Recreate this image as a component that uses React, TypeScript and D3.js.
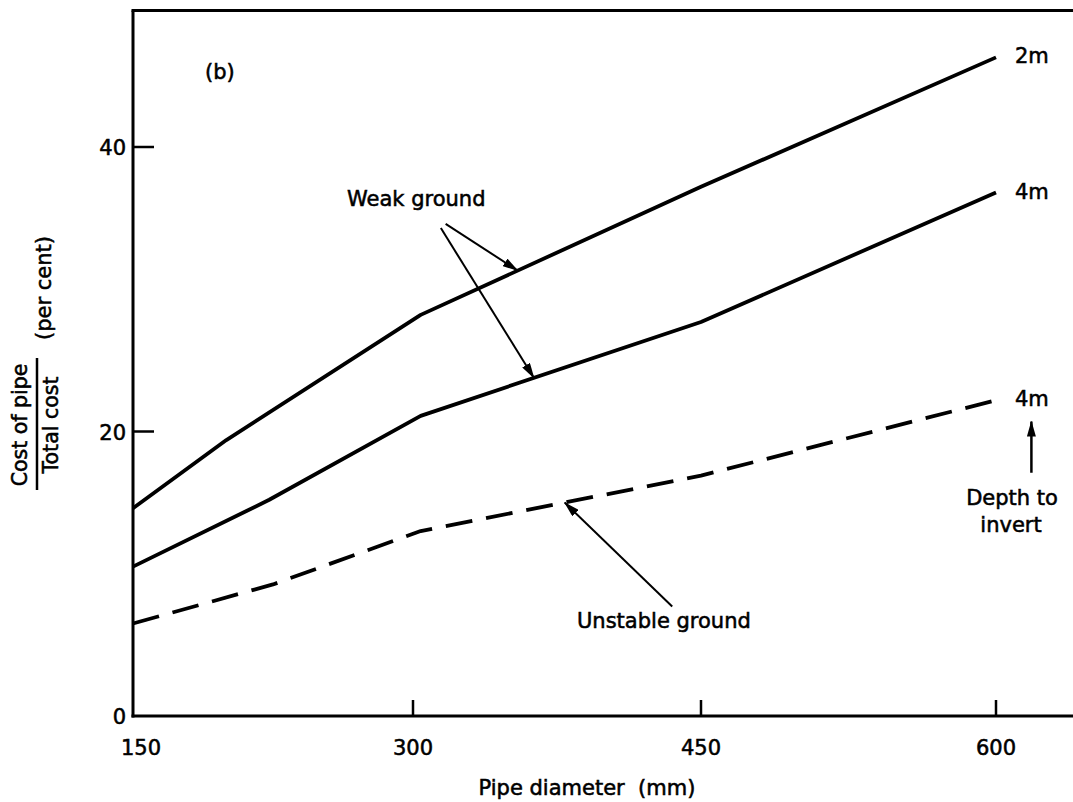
import React from 'react';
import * as d3 from 'd3';

const W = 1073;
const H = 802;

// Axis ticks
const diameterTicks = [150, 300, 450, 600];
const percentTicks = [0, 20, 40];
const innerYTicks = [20, 40];
const innerXTicks = [300, 450, 600];

// Weak ground, 2 m depth to invert
const weak2mDiam = [150, 200, 304, 450, 600];
const weak2mCost = [14.6, 19.4, 28.2, 37.2, 46.3];
// Weak ground, 4 m depth to invert
const weak4mDiam = [150, 223, 304, 450, 600];
const weak4mCost = [10.5, 15.2, 21.1, 27.7, 36.8];
// Unstable ground, 4 m depth to invert
const unstable4mDiam = [150, 225, 304, 450, 600];
const unstable4mCost = [6.5, 9.25, 13.0, 16.9, 22.2];

const endLabels = ['2m', '4m', '4m'];

const FONT = '"DejaVu Sans", sans-serif';

export default function App() {
  const x = d3.scaleLinear().domain([150, 300, 450, 600]).range([133, 413, 701, 996]);
  const y = d3.scaleLinear().domain([0, 40]).range([716, 147]);
  const yTop = y(49.6);

  const line = d3
    .line<[number, number]>()
    .x((d) => x(d[0]))
    .y((d) => y(d[1]));

  const series = [
    { diam: weak2mDiam, cost: weak2mCost, dashed: false },
    { diam: weak4mDiam, cost: weak4mCost, dashed: false },
    { diam: unstable4mDiam, cost: unstable4mCost, dashed: true },
  ];

  const interp = (diam: number[], cost: number[], v: number) =>
    d3.scaleLinear().domain(diam).range(cost)(v);

  // annotation arrows: [tail diameter, tail %, head diameter, head %]
  const arrows: [number, number, number, number][] = [
    [317, 34.6, 354.5, interp(weak2mDiam, weak2mCost, 354.5)],
    [314.5, 34.3, 363, interp(weak4mDiam, weak4mCost, 363)],
    [435, 7.7, 379, interp(unstable4mDiam, unstable4mCost, 379)],
    [618, 17.1, 618, 20.7],
  ];

  const textStyle = {
    fontFamily: FONT,
    fontSize: 21,
    fill: '#000',
    stroke: '#000',
    strokeWidth: 0.55,
  } as const;

  return (
    <svg
      width={W}
      height={H}
      style={{ position: 'absolute', left: 0, top: 0, background: '#fff' }}
    >
      <defs>
        <marker
          id="head"
          viewBox="0 0 16 9"
          refX={15}
          refY={4.5}
          markerWidth={16}
          markerHeight={9}
          markerUnits="userSpaceOnUse"
          orient="auto"
        >
          <path d="M0,0 L16,4.5 L0,9 Z" fill="#000" />
        </marker>
      </defs>
      <rect width={W} height={H} fill="#fff" />

      {/* frame */}
      <line x1={x(150)} x2={x(150)} y1={yTop} y2={y(0) + 1.5} stroke="#000" strokeWidth={3} />
      <line x1={x(150) - 1.5} x2={W} y1={yTop} y2={yTop} stroke="#000" strokeWidth={3} />
      <line x1={x(150) - 1.5} x2={W} y1={y(0)} y2={y(0)} stroke="#000" strokeWidth={3} />

      {/* inward ticks */}
      {innerYTicks.map((t) => (
        <line key={'yt' + t} x1={x(150)} x2={x(150) + 21} y1={y(t)} y2={y(t)} stroke="#000" strokeWidth={2.5} />
      ))}
      {innerXTicks.map((t) => (
        <line key={'xt' + t} x1={x(t)} x2={x(t)} y1={y(0)} y2={y(0) - 16} stroke="#000" strokeWidth={2.5} />
      ))}

      {/* tick labels */}
      {percentTicks.map((t) => (
        <text key={'yl' + t} x={x(150) - 7} y={y(t) + 8} textAnchor="end" {...textStyle}>
          {t}
        </text>
      ))}
      {diameterTicks.map((t) => (
        <text key={'xl' + t} x={x(t) + (t === 150 ? 8 : 0)} y={755} textAnchor="middle" {...textStyle}>
          {t}
        </text>
      ))}

      {/* axis titles */}
      <text x={587} y={795} textAnchor="middle" {...textStyle}>
        Pipe diameter{'\u00a0\u00a0'}(mm)
      </text>
      <g transform="translate(27,425) rotate(-90)">
        <text textAnchor="middle" {...textStyle} fontSize={20.5}>Cost of pipe</text>
      </g>
      <line x1={37} x2={37} y1={358} y2={490} stroke="#000" strokeWidth={2.5} />
      <g transform="translate(58,425) rotate(-90)">
        <text textAnchor="middle" {...textStyle} fontSize={20.5}>Total cost</text>
      </g>
      <g transform="translate(51,288) rotate(-90)">
        <text textAnchor="middle" {...textStyle}>(per cent)</text>
      </g>

      <text x={205} y={79} {...textStyle}>(b)</text>

      {/* curves */}
      {series.map((s, i) => (
        <path
          key={'s' + i}
          d={line(s.diam.map((d, j) => [d, s.cost[j]] as [number, number])) || ''}
          fill="none"
          stroke="#000"
          strokeWidth={3.8}
          strokeDasharray={s.dashed ? '27 14' : undefined}
          strokeLinejoin="round"
        />
      ))}

      {/* depth labels at line ends */}
      {series.map((s, i) => (
        <text
          key={'el' + i}
          x={x(600) + 19}
          y={y(s.cost[s.cost.length - 1]) + 6}
          {...textStyle}
        >
          {endLabels[i]}
        </text>
      ))}

      {/* annotations */}
      {arrows.map((a, i) => (
        <line
          key={'ar' + i}
          x1={x(a[0])}
          y1={y(a[1])}
          x2={x(a[2])}
          y2={y(a[3])}
          stroke="#000"
          strokeWidth={i === 3 ? 2.5 : 2}
          markerEnd="url(#head)"
        />
      ))}
      <text x={347} y={206} {...textStyle}>Weak ground</text>
      <text x={577} y={628} {...textStyle}>Unstable ground</text>
      <text x={1012} y={505} textAnchor="middle" {...textStyle}>Depth to</text>
      <text x={1011} y={532} textAnchor="middle" {...textStyle}>invert</text>
    </svg>
  );
}
